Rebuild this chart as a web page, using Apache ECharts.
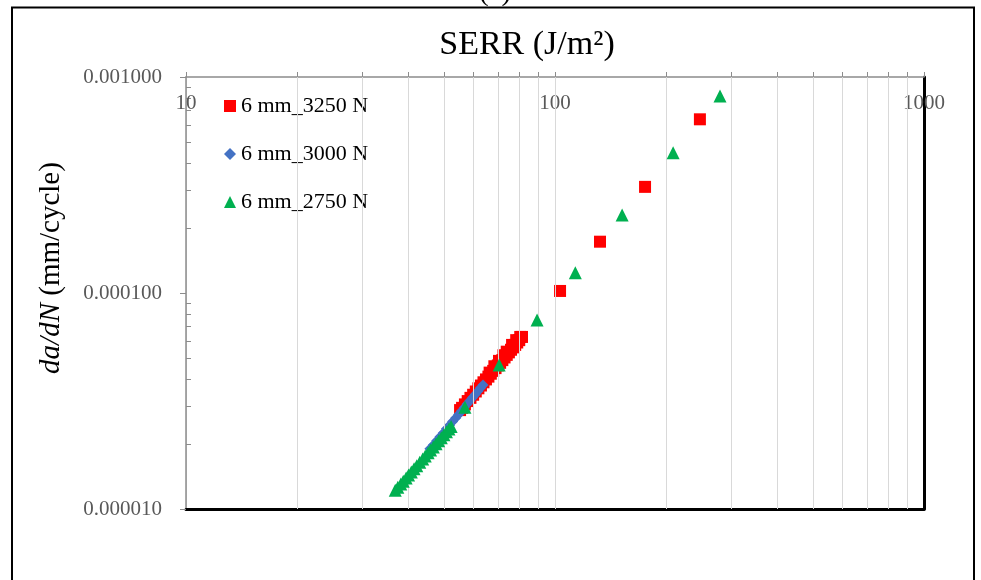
<!DOCTYPE html>
<html>
<head>
<meta charset="utf-8">
<script src="https://cdn.jsdelivr.net/npm/echarts@6/dist/echarts.min.js"></script>
<style>
html,body{margin:0;padding:0;background:#fff;}
#c{width:981px;height:580px;}
</style>
</head>
<body>
<div id="c"></div>
<script>
// ---- data ----
const seriesNames = ['6 mm_3250 N', '6 mm_3000 N', '6 mm_2750 N'];

const serr3250 = [55.3, 56.0, 57.0, 58.0, 59.0, 60.0, 61.0, 62.0, 63.0, 64.0, 65.0, 66.0, 66.5, 67.0, 68.0, 68.5, 69.0, 70.0, 70.5, 71.0, 72.0, 72.5, 73.0, 74.0, 74.0, 75.0, 76.0, 76.5, 77.0, 78.0, 78.5, 79.0, 80.0, 80.5, 81.4, 103.2, 132.4, 175.4, 247.0];
const rate3250 = [2.87e-5, 2.94e-5, 3.05e-5, 3.16e-5, 3.27e-5, 3.38e-5, 3.50e-5, 3.62e-5, 3.73e-5, 3.86e-5, 3.98e-5, 4.10e-5, 4.28e-5, 4.23e-5, 4.36e-5, 4.58e-5, 4.49e-5, 4.62e-5, 4.85e-5, 4.75e-5, 4.89e-5, 5.15e-5, 5.03e-5, 5.17e-5, 5.35e-5, 5.31e-5, 5.46e-5, 5.75e-5, 5.60e-5, 5.75e-5, 6.05e-5, 5.90e-5, 6.05e-5, 6.26e-5, 6.26e-5, 1.022e-4, 1.728e-4, 3.10e-4, 6.37e-4];

const serr3000 = [45.8, 46.8, 47.8, 48.8, 49.8, 50.8, 51.8, 52.8, 53.8, 54.8, 55.8, 56.8, 57.8, 58.8, 59.8, 60.8, 61.8, 62.8, 63.8];
const rate3000 = [1.90e-5, 1.98e-5, 2.07e-5, 2.16e-5, 2.25e-5, 2.35e-5, 2.44e-5, 2.54e-5, 2.64e-5, 2.74e-5, 2.84e-5, 2.95e-5, 3.06e-5, 3.17e-5, 3.28e-5, 3.39e-5, 3.51e-5, 3.63e-5, 3.75e-5];

const serr2750 = [36.9, 37.5, 38.2, 38.8, 39.5, 40.1, 40.8, 41.5, 42.2, 43.0, 43.8, 44.5, 45.3, 46.0, 46.8, 47.6, 48.4, 49.2, 50.0, 50.8, 51.6, 52.3, 57.0, 70.6, 89.4, 113.5, 152.0, 209.0, 280.0];
const rate2750 = [1.22e-5, 1.26e-5, 1.305e-5, 1.346e-5, 1.393e-5, 1.435e-5, 1.484e-5, 1.534e-5, 1.585e-5, 1.644e-5, 1.704e-5, 1.758e-5, 1.82e-5, 1.875e-5, 1.939e-5, 2.004e-5, 2.071e-5, 2.138e-5, 2.206e-5, 2.276e-5, 2.346e-5, 2.409e-5, 2.96e-5, 4.64e-5, 7.50e-5, 1.242e-4, 2.296e-4, 4.46e-4, 8.17e-4];

// axis ranges and gridline values
const xMin = 10, xMax = 1000;
const yMin = 0.00001, yMax = 0.001;
const xGridValues = [20, 30, 40, 50, 60, 70, 80, 90, 100, 200, 300, 400, 500, 600, 700, 800, 900];

const zip = (a, b) => a.map((v, i) => [v, b[i]]);

const FONT = "'Liberation Serif', 'Times New Roman', serif";

const chart = echarts.init(document.getElementById('c'), null, {renderer: 'canvas'});

const option = {
  animation: false,
  backgroundColor: '#ffffff',
  title: {
    text: 'SERR (J/m²)',
    left: 522,
    top: 23,
    textAlign: 'center',
    textStyle: {fontFamily: FONT, fontSize: 34, fontWeight: 'normal', color: '#000'}
  },
  graphic: [
    {
      type: 'rect', silent: true, z: -1,
      shape: {x: 12, y: 7.5, width: 962, height: 600},
      style: {fill: 'none', stroke: '#000', lineWidth: 2}
    },
    {
      type: 'text', silent: true,
      x: 495, y: -22,
      style: {text: '(a)', font: '29px ' + FONT, fill: '#000', align: 'center'}
    },
    {
      type: 'text', silent: true,
      x: 51, y: 268,
      rotation: Math.PI / 2,
      style: {
        text: '{i|da/dN} (mm/cycle)',
        font: '29px ' + FONT,
        fill: '#000',
        align: 'center',
        verticalAlign: 'middle',
        rich: {i: {fontStyle: 'italic', fontFamily: FONT, fontSize: 29, fill: '#000'}}
      }
    }
  ],
  legend: {
    orient: 'vertical',
    left: 219,
    top: 89,
    itemGap: 24,
    itemWidth: 12,
    itemHeight: 12,
    textStyle: {fontFamily: FONT, fontSize: 22, color: '#000', lineHeight: 24},
    data: [
      {name: seriesNames[0], icon: 'rect'},
      {name: seriesNames[1], icon: 'diamond'},
      {name: seriesNames[2], icon: 'triangle'}
    ]
  },
  grid: {left: 186, right: 57, top: 77, bottom: 71, containLabel: false},
  xAxis: [
    {
      type: 'log', logBase: 10, min: xMin, max: xMax, position: 'top',
      axisLine: {show: true, lineStyle: {color: '#8c8c8c', width: 1.5}},
      axisTick: {show: true, length: 5, lineStyle: {color: '#8c8c8c'}},
      minorTick: {show: true, splitNumber: 9, length: 5, lineStyle: {color: '#8c8c8c'}},
      axisLabel: {inside: true, margin: 16, color: '#595959', fontFamily: FONT, fontSize: 21,
        formatter: v => String(Math.round(v))},
      splitLine: {show: true, lineStyle: {color: '#d9d9d9', width: 1}}
    },
    {
      type: 'log', logBase: 10, min: xMin, max: xMax, position: 'bottom',
      axisLine: {show: true, lineStyle: {color: '#000', width: 3}},
      axisTick: {show: false}, axisLabel: {show: false}, splitLine: {show: false}
    }
  ],
  yAxis: [
    {
      type: 'log', logBase: 10, min: yMin, max: yMax, position: 'left',
      axisLine: {show: true, lineStyle: {color: '#8c8c8c', width: 1.5}},
      axisTick: {show: true, length: 6, lineStyle: {color: '#8c8c8c'}},
      minorTick: {show: true, splitNumber: 9, length: -5, lineStyle: {color: '#8c8c8c'}},
      axisLabel: {margin: 24, color: '#595959', fontFamily: FONT, fontSize: 21,
        formatter: v => Number(v).toFixed(6)},
      splitLine: {show: false}
    },
    {
      type: 'log', logBase: 10, min: yMin, max: yMax, position: 'right',
      axisLine: {show: true, lineStyle: {color: '#000', width: 3}},
      axisTick: {show: false}, axisLabel: {show: false}, splitLine: {show: false}
    }
  ],
  series: [
    {
      name: 'grid', type: 'scatter', data: [], z: 1, silent: true,
      markLine: {
        silent: true, symbol: 'none', label: {show: false},
        lineStyle: {color: '#d9d9d9', width: 1, type: 'solid'},
        data: xGridValues.map(v => ({xAxis: v}))
      }
    },
    {
      name: seriesNames[0], type: 'scatter', symbol: 'rect', symbolSize: 12, z: 3,
      itemStyle: {color: '#ff0000', opacity: 1}, data: zip(serr3250, rate3250)
    },
    {
      name: seriesNames[1], type: 'scatter', symbol: 'diamond', symbolSize: 11, z: 4,
      itemStyle: {color: '#4472c4', opacity: 1}, data: zip(serr3000, rate3000)
    },
    {
      name: seriesNames[2], type: 'scatter', symbol: 'triangle', symbolSize: 13, z: 5,
      itemStyle: {color: '#00b050', opacity: 1}, data: zip(serr2750, rate2750)
    }
  ]
};
chart.setOption(option);
</script>
</body>
</html>
